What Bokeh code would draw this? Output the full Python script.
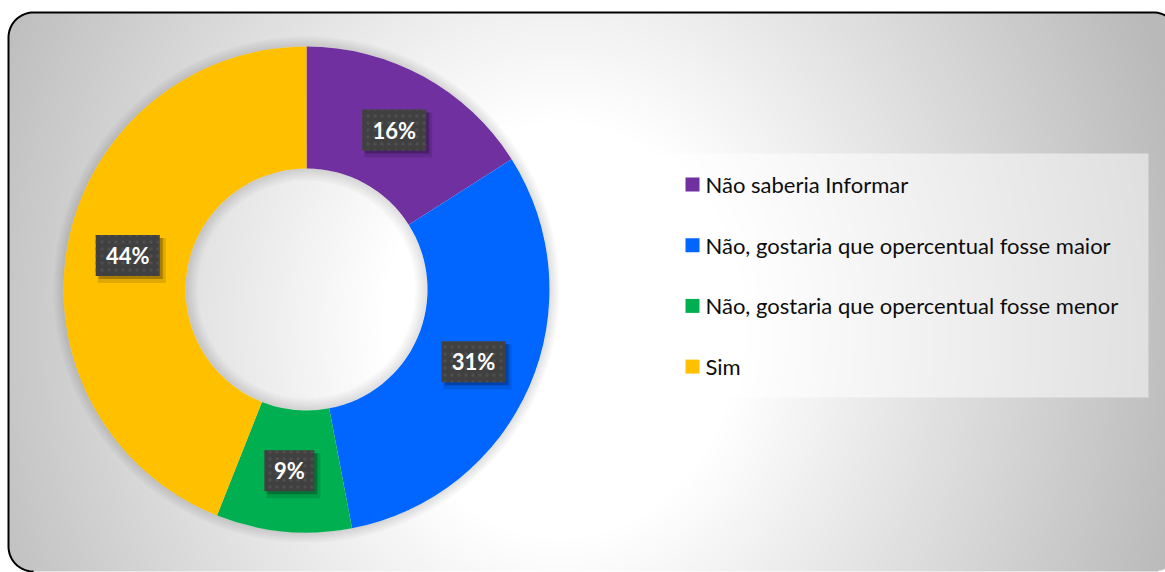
import numpy as np
from bokeh.plotting import figure
from bokeh.models import Range1d
from bokeh.core.properties import value
from bokeh.embed import file_html
from bokeh.resources import INLINE

# ---------------- data ----------------
categories = [
    "Não saberia Informar",
    "Não, gostaria que opercentual fosse maior",
    "Não, gostaria que opercentual fosse menor",
    "Sim",
]
percentages = [16, 31, 9, 44]
labels = ["16%", "31%", "9%", "44%"]
colors = ["#7030A0", "#0066FF", "#00B050", "#FFC000"]

# ---------------- layout helpers (page pixel -> data) ----------------
W, H = 1165, 572


def px(X):
    return X


def py(Y):
    return H - Y


p = figure(width=W, height=H, x_range=Range1d(0, W), y_range=Range1d(0, H),
           output_backend="svg", toolbar_location=None, min_border=0,
           x_axis_location=None, y_axis_location=None)
p.grid.visible = False
p.outline_line_color = None
p.background_fill_color = "white"
p.border_fill_color = "white"

# ---------------- background gradient inside rounded frame ----------------
cols = np.arange(W) + 0.5
rows = np.arange(H) + 0.5
XX, YY = np.meshgrid(cols, H - rows)
t = np.sqrt(((XX - 560) / 600.0) ** 2 + ((YY - 330) / 700.0) ** 2)
g = np.clip(255 - np.clip((t - 0.3) / 0.7, 0, 1.3) * 63, 185, 255).astype(np.uint8)
L, T, R, B, rad = 8, 12, 1178, 571, 25
cx = np.clip(XX, L + rad, R - rad)
cy = np.clip(YY, T + rad, B - rad)
inside = ((XX - cx) ** 2 + (YY - cy) ** 2 <= rad ** 2) & (XX >= L) & (XX <= R) & (YY >= T) & (YY <= B)
img = np.zeros((H, W), dtype=np.uint32)
view = img.view(dtype=np.uint8).reshape((H, W, 4))
view[:, :, 0] = g
view[:, :, 1] = g
view[:, :, 2] = g
view[:, :, 3] = np.where(inside, 255, 0)
p.image_rgba(image=[img], x=0, y=0, dw=W, dh=H)

# frame border (rounded rectangle)
a1 = np.linspace(np.pi, np.pi / 2, 20)
a2 = np.linspace(np.pi / 2, 0, 20)
a3 = np.linspace(np.pi, 1.5 * np.pi, 20)
bx = (list(L + rad + rad * np.cos(a3[::-1])) + list(L + rad + rad * np.cos(a1))
      + list(R - rad + rad * np.cos(a2)) + [R])
by = (list(B - rad - rad * np.sin(a3[::-1])) + list(T + rad - rad * np.sin(a1))
      + list(T + rad - rad * np.sin(a2)) + [B])
p.line([px(v) for v in bx], [py(v) for v in by], line_color="black", line_width=2)

# ---------------- donut ----------------
CX, CY = px(306), py(289)
R_OUT, R_IN = 243, 121

# soft shadows
for k in range(2, 12, 2):
    p.annulus(x=CX, y=CY, inner_radius=R_OUT, outer_radius=R_OUT + k,
              fill_color="black", fill_alpha=0.025, line_color=None)
for k in range(2, 14, 2):
    p.annulus(x=CX, y=CY, inner_radius=R_IN - k, outer_radius=R_IN,
              fill_color="black", fill_alpha=0.018, line_color=None)

total = float(sum(percentages))
cum = np.cumsum([0] + percentages) / total
starts = np.pi / 2 - 2 * np.pi * cum[:-1]
ends = np.pi / 2 - 2 * np.pi * cum[1:]
p.annular_wedge(x=CX, y=CY, inner_radius=R_IN, outer_radius=R_OUT,
                start_angle=list(starts), end_angle=list(ends), direction="clock",
                fill_color=colors, line_color=None)

# ---------------- data labels ----------------
mid = (starts + ends) / 2
r_mid = (R_IN + R_OUT) / 2
lx = CX + r_mid * np.cos(mid)
ly = CY + r_mid * np.sin(mid)
bw = [14 * len(s) + 22 for s in labels]
p.rect(x=list(lx + 4), y=list(ly - 5), width=[w + 4 for w in bw], height=45,
       width_units="screen", height_units="screen",
       fill_color="black", fill_alpha=0.12, line_color=None)
p.rect(x=list(lx + 3), y=list(ly - 3), width=bw, height=41,
       width_units="screen", height_units="screen",
       fill_color="black", fill_alpha=0.25, line_color=None)
p.rect(x=list(lx), y=list(ly), width=bw, height=41,
       width_units="screen", height_units="screen",
       fill_color="#404040", line_color=None,
       hatch_pattern="dot", hatch_color="#4e4e4e", hatch_scale=7, hatch_weight=1.5)
p.text(x=list(lx), y=list(ly), text=labels, text_color="white",
       text_font=value("Lato"), text_font_style="bold", text_font_size="22px",
       text_align="center", text_baseline="middle")

# ---------------- legend ----------------
p.quad(left=px(662), right=px(1148), top=py(153), bottom=py(397),
       fill_color="white", fill_alpha=0.5, line_color=None)
row_y = [py(184 + i * 60.7) for i in range(len(categories))]
p.rect(x=[px(692)] * len(categories), y=row_y, width=14, height=14,
       width_units="screen", height_units="screen",
       fill_color=colors, line_color=None)
p.text(x=[px(705)] * len(categories), y=row_y, text=categories,
       text_color="#0d0d0d", text_font=value("Lato"), text_font_size="22px",
       text_align="left", text_baseline="middle")

open("out.html", "w").write(file_html(p, INLINE))
